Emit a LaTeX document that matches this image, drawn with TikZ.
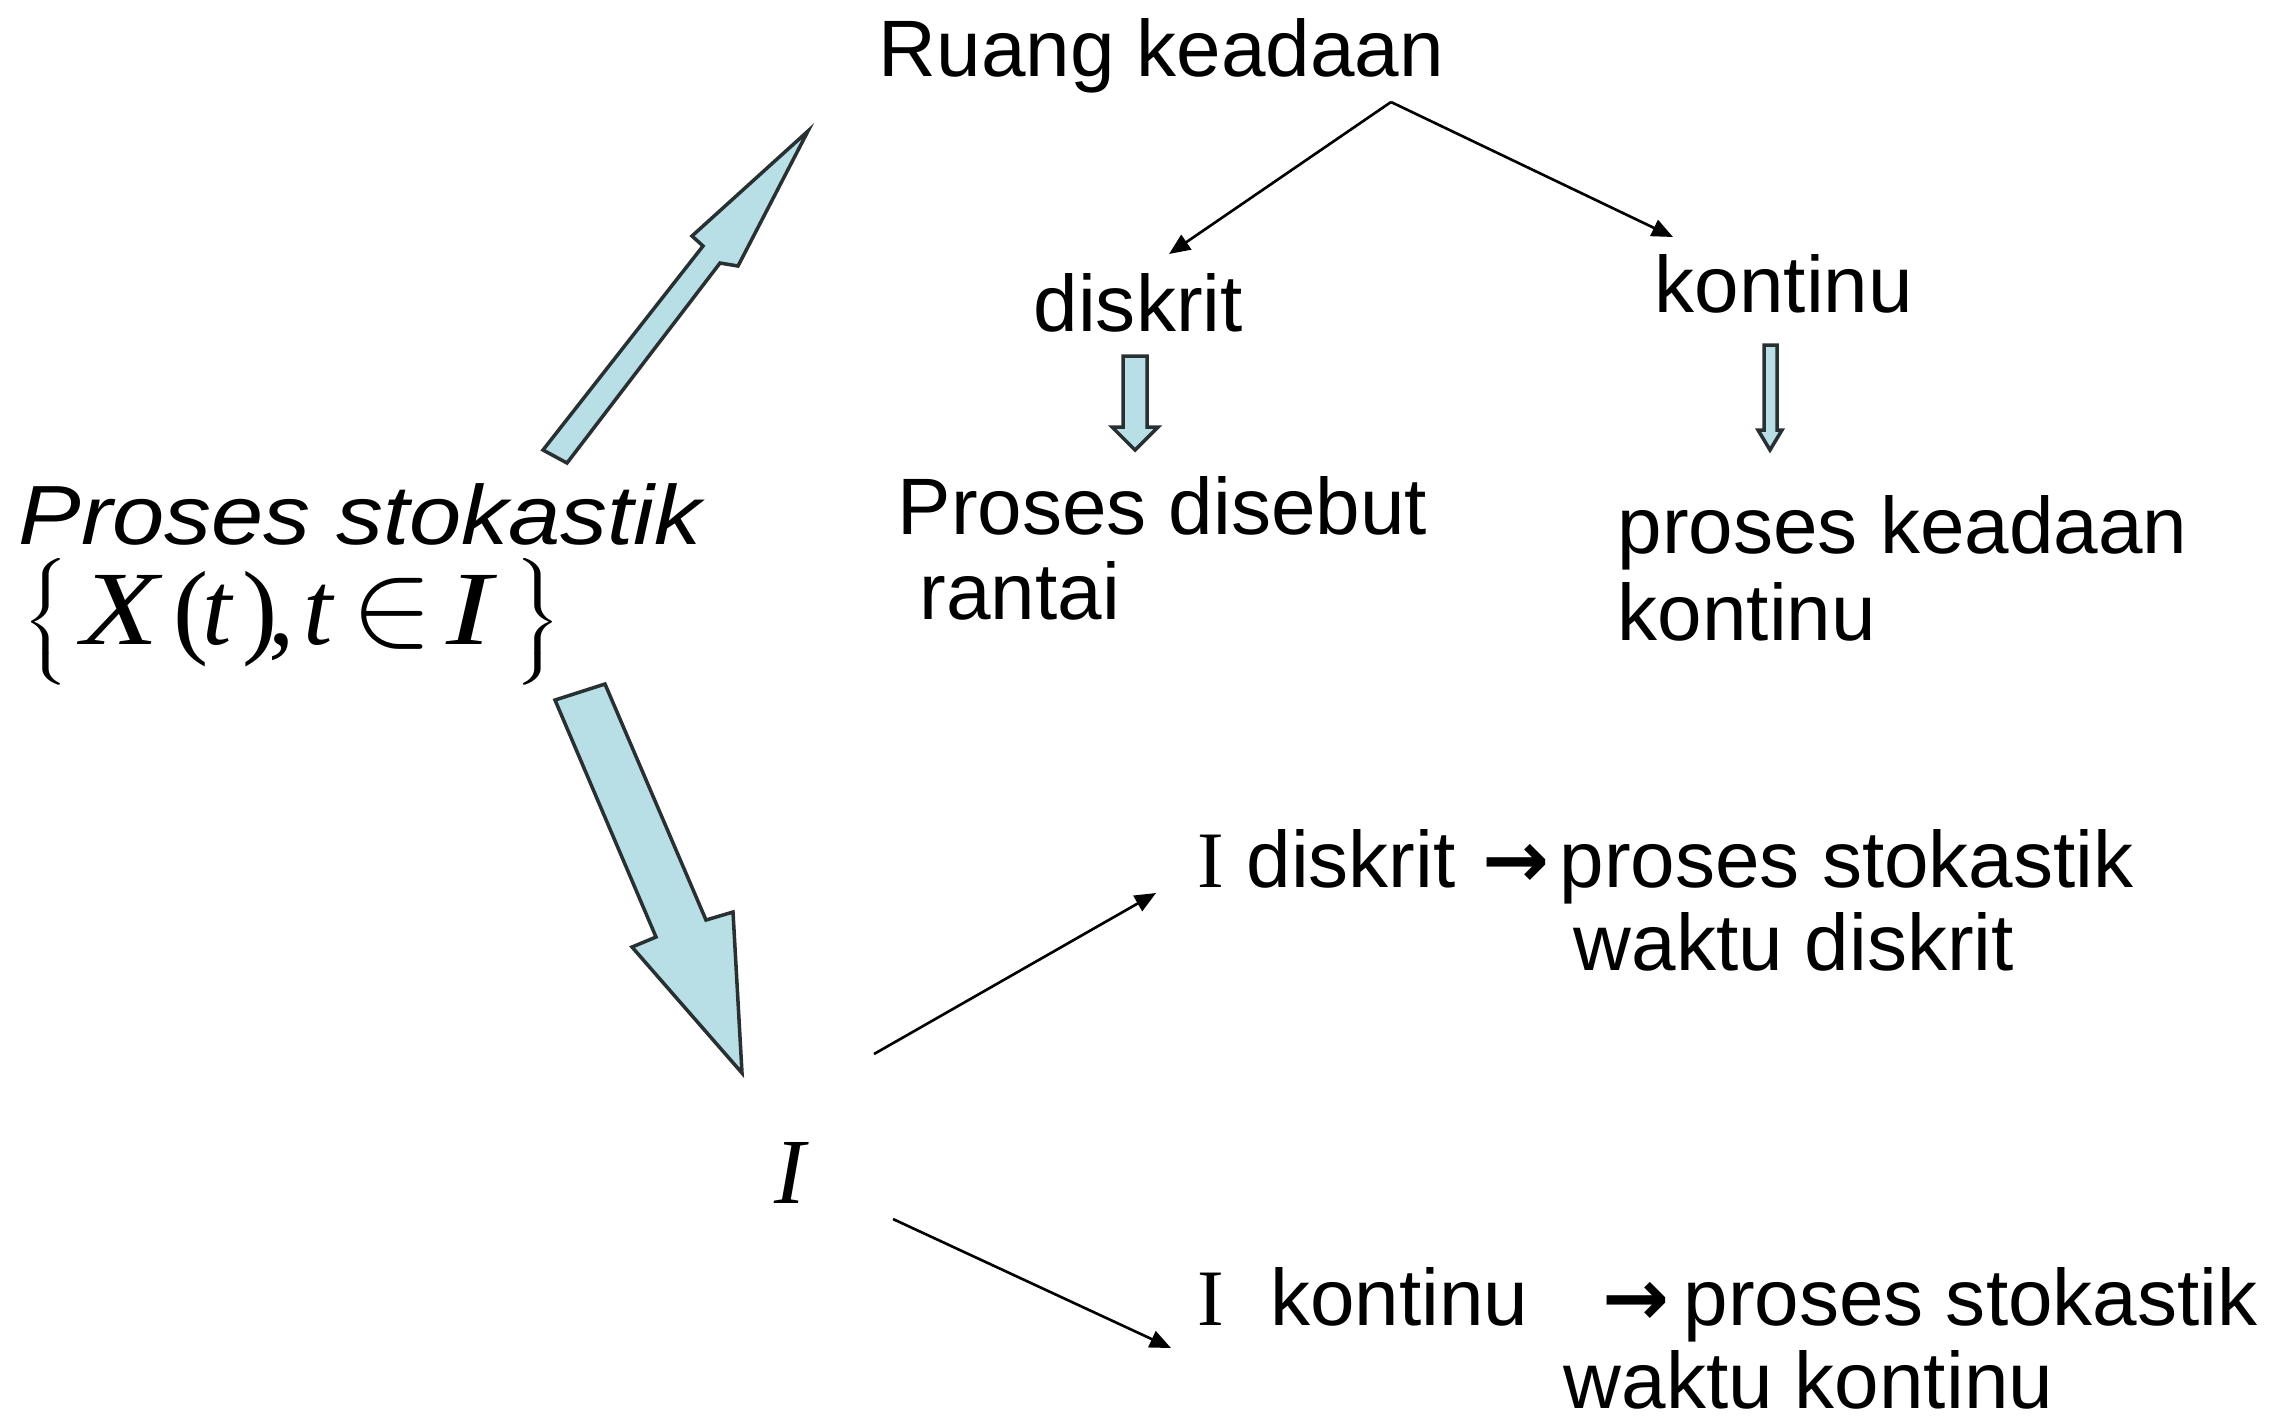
\documentclass[tikz,border=0pt]{standalone}
\usepackage{fontspec}
\usepackage{graphicx}
\setmainfont{Liberation Sans}
\newfontfamily\serifrm{Liberation Serif}
\newfontfamily\arrowfont{DejaVu Sans}
\usetikzlibrary{arrows.meta}
\definecolor{arrowfill}{RGB}{183,223,229}
\definecolor{arrowline}{RGB}{40,48,50}
% fixed-width slot for one glyph of the set notation
\newcommand\glyphslot[2]{\makebox[#1][l]{#2}}
\newcommand\bigarrow{{\arrowfont\bfseries →}}

\begin{document}
\begin{tikzpicture}[x=0.01cm,y=-0.01cm,
  lbl/.style={anchor=base west, inner sep=0pt, font=\fontsize{22.76}{24.2}\selectfont},
  blockarrow/.style={fill=arrowfill, draw=arrowline, line width=1pt, line join=miter},
  link/.style={line width=0.75pt, -{Triangle[length=6pt,width=5pt]}}]
\useasboundingbox (0,0) rectangle (2295,1417);
\clip (0,0) rectangle (2295,1417);

% state space branch
\node[lbl] (ruang) at (878,76) {Ruang keadaan};
\node[lbl] (disk) at (1033,331) {diskrit};
\node[lbl] (kont) at (1654,312) {kontinu};
\node[lbl] (pd1) at (897,534) {Proses disebut};
\node[lbl] (pd2) at (919,619) {rantai};
\node[lbl] (pk1) at (1617,553) {proses keadaan};
\node[lbl] (pk2) at (1617,640) {kontinu};

\coordinate (apex) at (1391,102);
\coordinate (dtip) at (1169,254);
\coordinate (ktip) at (1673,237);
\draw[link] (apex) -- (dtip);
\draw[link] (apex) -- (ktip);

% small block arrows
\draw[blockarrow] (1123,356) -- (1147,356) -- (1147,427) -- (1158,427) -- (1135,450) -- (1112,427) -- (1123,427) -- cycle;
\draw[blockarrow] (1764,345) -- (1777,345) -- (1777,430) -- (1782,430) -- (1770,450) -- (1758,430) -- (1764,430) -- cycle;

% the process itself
\node[lbl, font=\fontsize{23.9}{26}\selectfont\itshape] (ps) at (18,544) {\scalebox{1.116}[1]{Proses stokastik}};
\node[anchor=base west, inner sep=0pt, font=\serifrm\fontsize{30}{32}\selectfont] (set) at (22,644)
  {\glyphslot{0.585cm}{\scalebox{1.5}[1]{$\left\{\vrule height 23pt depth 11pt width 0pt\right.$}}%
   \glyphslot{0.92cm}{\scalebox{1.2}[1]{\itshape X}}%
   \glyphslot{0.29cm}{(}%
   \glyphslot{0.40cm}{\itshape t}%
   \glyphslot{0.26cm}{)}%
   \glyphslot{0.35cm}{,}%
   \glyphslot{0.48cm}{\itshape t}%
   \glyphslot{0.95cm}{\scalebox{1.4}{$\in$}}%
   \glyphslot{0.62cm}{\scalebox{1.3}[1]{\itshape I}}%
   \scalebox{1.5}[1]{$\left.\vrule height 23pt depth 11pt width 0pt\right\}$}};

% big block arrows
\draw[blockarrow] (543,450) -- (703,246) -- (692,236) -- (808,131) -- (738,266) -- (720,263) -- (567,463) -- cycle;
\draw[blockarrow] (555,700) -- (605,684) -- (706,920) -- (733,912) -- (742,1073) -- (632,947) -- (656,937) -- cycle;

% index set branch
\node[anchor=base, inner sep=0pt, font=\serifrm\itshape\fontsize{26.5}{28}\selectfont] (I) at (790,1203) {I};
\node[lbl] (id1) at (1197,887) {{\serifrm I} diskrit\hspace{0.27cm}\bigarrow\hspace{0.1cm}proses stokastik};
\node[lbl] (id2) at (1573,970) {waktu diskrit};
\node[lbl] (ik1) at (1197,1325) {{\serifrm I}\hspace{0.46cm}kontinu\hspace{0.74cm}\bigarrow\hspace{0.14cm}proses stokastik};
\node[lbl] (ik2) at (1563,1408) {waktu kontinu};

\coordinate (i1s) at (874,1054);
\coordinate (i1e) at (1156,893);
\coordinate (i2s) at (893,1219);
\coordinate (i2e) at (1171,1348);
\draw[link] (i1s) -- (i1e);
\draw[link] (i2s) -- (i2e);
\end{tikzpicture}
\end{document}
